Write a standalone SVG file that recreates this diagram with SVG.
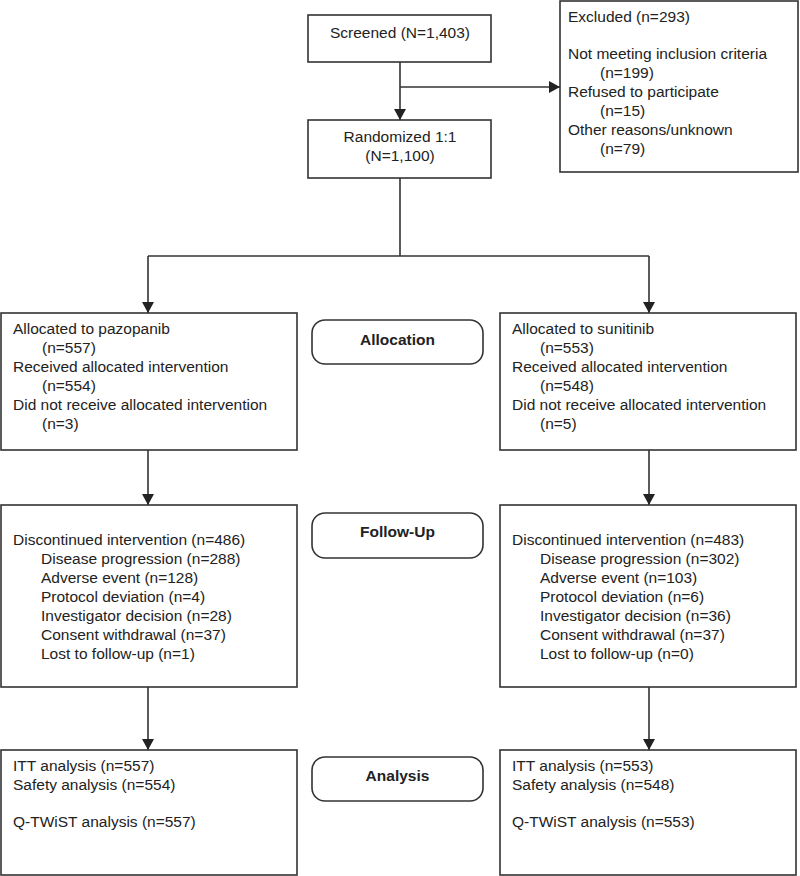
<svg xmlns="http://www.w3.org/2000/svg" width="800" height="876" viewBox="0 0 800 876">
<defs>
<marker id="arr" markerUnits="userSpaceOnUse" markerWidth="12" markerHeight="12" refX="11" refY="6" orient="auto">
<path d="M0,0 L11,6 L0,12 Z" fill="#222"/>
</marker>
<style>
.box{fill:#fff;stroke:#333;stroke-width:1.6}
.lbl{fill:#fff;stroke:#333;stroke-width:1.6}
.t{font-family:"Liberation Sans",Arial,sans-serif;font-size:15.5px;fill:#222}
.c{text-anchor:middle}
.b{font-weight:bold}
.ln{fill:none;stroke:#333;stroke-width:1.6}
</style>
</defs>
<rect width="800" height="876" fill="#fff"/>
<g id="connectors">
<line class="ln" x1="400" y1="62" x2="400" y2="120" marker-end="url(#arr)"/>
<line class="ln" x1="400" y1="87" x2="560" y2="87" marker-end="url(#arr)"/>
<polyline class="ln" points="400,178 400,256"/>
<polyline class="ln" points="148,256 649,256"/>
<line class="ln" x1="148" y1="256" x2="148" y2="313" marker-end="url(#arr)"/>
<line class="ln" x1="649" y1="256" x2="649" y2="313" marker-end="url(#arr)"/>
<line class="ln" x1="148" y1="450" x2="148" y2="505" marker-end="url(#arr)"/>
<line class="ln" x1="649" y1="450" x2="649" y2="505" marker-end="url(#arr)"/>
<line class="ln" x1="148" y1="687" x2="148" y2="750" marker-end="url(#arr)"/>
<line class="ln" x1="649" y1="687" x2="649" y2="750" marker-end="url(#arr)"/>
</g>
<g id="screened">
<rect class="box" x="308" y="15" width="183" height="47"/>
<text class="t c" x="400" y="38">Screened (N=1,403)</text>
</g>
<g id="excluded">
<rect class="box" x="560" y="1" width="238" height="171"/>
<text class="t" x="568" y="22">Excluded (n=293)</text>
<text class="t" x="568" y="59">Not meeting inclusion criteria</text>
<text class="t" x="600" y="78">(n=199)</text>
<text class="t" x="568" y="97">Refused to participate</text>
<text class="t" x="600" y="116">(n=15)</text>
<text class="t" x="568" y="135">Other reasons/unknown</text>
<text class="t" x="600" y="154">(n=79)</text>
</g>
<g id="randomized">
<rect class="box" x="308" y="120" width="183" height="58"/>
<text class="t c" x="400" y="142">Randomized 1:1</text>
<text class="t c" x="400" y="161">(N=1,100)</text>
</g>
<g id="alloc-pazopanib">
<rect class="box" x="1" y="313" width="296" height="137"/>
<text class="t" x="13" y="334">Allocated to pazopanib</text>
<text class="t" x="42" y="353">(n=557)</text>
<text class="t" x="13" y="372">Received allocated intervention</text>
<text class="t" x="42" y="391">(n=554)</text>
<text class="t" x="13" y="410">Did not receive allocated intervention</text>
<text class="t" x="42" y="429">(n=3)</text>
</g>
<g id="label-allocation">
<rect class="lbl" x="312" y="320" width="171" height="44" rx="13" ry="13"/>
<text class="t c b" x="397.5" y="345">Allocation</text>
</g>
<g id="alloc-sunitinib">
<rect class="box" x="500" y="313" width="296" height="137"/>
<text class="t" x="512" y="334">Allocated to sunitinib</text>
<text class="t" x="540" y="353">(n=553)</text>
<text class="t" x="512" y="372">Received allocated intervention</text>
<text class="t" x="540" y="391">(n=548)</text>
<text class="t" x="512" y="410">Did not receive allocated intervention</text>
<text class="t" x="540" y="429">(n=5)</text>
</g>
<g id="followup-pazopanib">
<rect class="box" x="1" y="505" width="296" height="182"/>
<text class="t" x="13" y="545">Discontinued intervention (n=486)</text>
<text class="t" x="41" y="564">Disease progression (n=288)</text>
<text class="t" x="41" y="583">Adverse event (n=128)</text>
<text class="t" x="41" y="602">Protocol deviation (n=4)</text>
<text class="t" x="41" y="621">Investigator decision (n=28)</text>
<text class="t" x="41" y="640">Consent withdrawal (n=37)</text>
<text class="t" x="41" y="659">Lost to follow-up (n=1)</text>
</g>
<g id="label-followup">
<rect class="lbl" x="312" y="513" width="171" height="45" rx="13" ry="13"/>
<text class="t c b" x="397.5" y="537">Follow-Up</text>
</g>
<g id="followup-sunitinib">
<rect class="box" x="500" y="505" width="296" height="182"/>
<text class="t" x="512" y="545">Discontinued intervention (n=483)</text>
<text class="t" x="540" y="564">Disease progression (n=302)</text>
<text class="t" x="540" y="583">Adverse event (n=103)</text>
<text class="t" x="540" y="602">Protocol deviation (n=6)</text>
<text class="t" x="540" y="621">Investigator decision (n=36)</text>
<text class="t" x="540" y="640">Consent withdrawal (n=37)</text>
<text class="t" x="540" y="659">Lost to follow-up (n=0)</text>
</g>
<g id="analysis-pazopanib">
<rect class="box" x="1" y="750" width="296" height="125"/>
<text class="t" x="13" y="771">ITT analysis (n=557)</text>
<text class="t" x="13" y="790">Safety analysis (n=554)</text>
<text class="t" x="13" y="827">Q-TWiST analysis (n=557)</text>
</g>
<g id="label-analysis">
<rect class="lbl" x="312" y="757" width="171" height="44" rx="13" ry="13"/>
<text class="t c b" x="397.5" y="781">Analysis</text>
</g>
<g id="analysis-sunitinib">
<rect class="box" x="500" y="750" width="296" height="125"/>
<text class="t" x="512" y="771">ITT analysis (n=553)</text>
<text class="t" x="512" y="790">Safety analysis (n=548)</text>
<text class="t" x="512" y="827">Q-TWiST analysis (n=553)</text>
</g>
</svg>
